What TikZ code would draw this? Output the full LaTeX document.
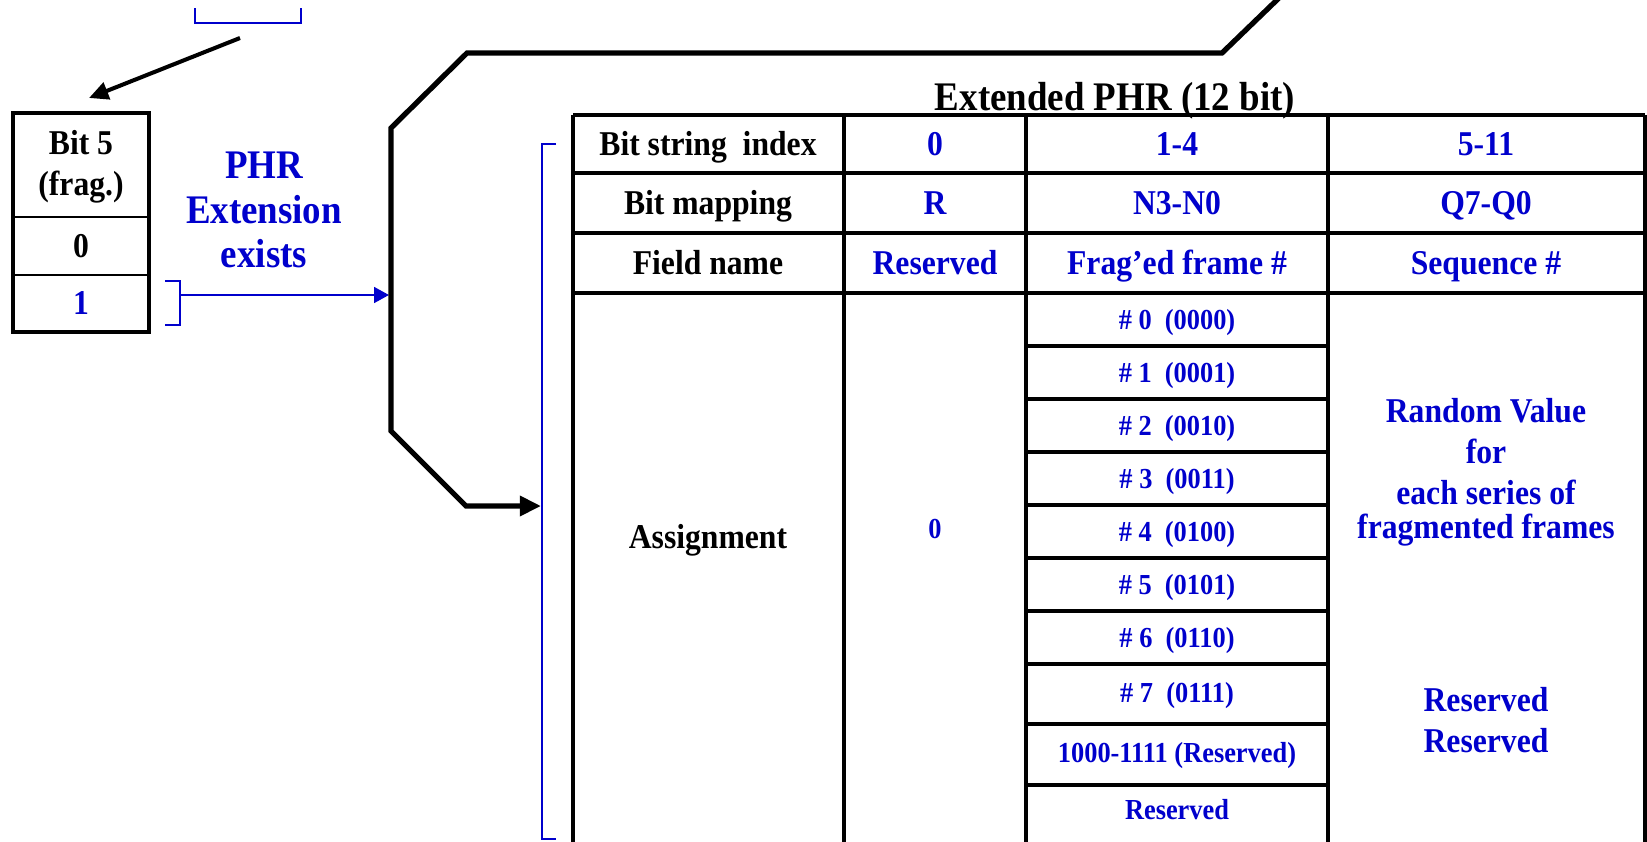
\documentclass[tikz,border=0pt]{standalone}
\usepackage{fontspec}
\setmainfont{Liberation Serif}[FakeStretch=0.91]
\usepackage{tikz}
\usetikzlibrary{arrows.meta}
\definecolor{phrblue}{RGB}{0,0,204}
\tikzset{
  txt/.style={inner sep=0pt, text height=13pt, text depth=0pt, font=\fontsize{19.8}{24}\selectfont\bfseries},
  smtxt/.style={inner sep=0pt, text height=11pt, text depth=0pt, text=phrblue, font=\fontsize{16.5}{20}\selectfont\bfseries},
  blk/.style={align=center, inner sep=0pt, font=\fontsize{19.8}{23.5}\selectfont\bfseries},
  tabline/.style={line width=2pt},
  brk/.style={draw=phrblue, line width=1.2pt},
}

\begin{document}
\begin{tikzpicture}[x=0.02cm, y=-0.02cm]
\useasboundingbox (0,0) rectangle (1647,842);

% bit 5 box
\draw[line width=1.1pt] (13,217) -- (149,217) (13,275) -- (149,275);
\draw[line width=2.3pt] (13,113) rectangle (149,332);
\node[blk] (bitfive) at (81,167) {Bit 5\\(frag.)};
\node[txt] (bitzero) at (81,246) {0};
\node[txt, text=phrblue] (bitone) at (81,303.5) {1};
\node[align=center, inner sep=0pt, text=phrblue, font=\fontsize{23.1}{25.5}\selectfont\bfseries] (phrext) at (264,210) {PHR\\Extension\\exists};

% arrows on the left
\draw[brk] (195,8) -- (195,23) -- (301,23) -- (301,8);
\coordinate (selbr) at (240,38);
\coordinate (bittop) at (89,98);
\draw[line width=2.3pt, -{Triangle[length=11pt,width=10pt]}] (selbr) -- (bittop);

\draw[brk] (165,281) -- (180,281) -- (180,325) -- (165,325);
\coordinate (onebr) at (180,295);
\coordinate (phrin) at (389,295);
\draw[brk, -{Triangle[length=8.5pt,width=9pt]}] (onebr) -- (phrin);

\coordinate (phrtop) at (1280,-3);
\coordinate (asgin) at (541,506);
\draw[line width=3pt, -{Triangle[length=12pt,width=11pt]}] (phrtop) -- (1222,53) -- (467,53) -- (391,128) -- (391,431) -- (466,506) -- (asgin);

\draw[brk] (556,144) -- (542,144) -- (542,839) -- (556,839);

% table
\node[inner sep=0pt, text height=15.3pt, text depth=0pt, font=\fontsize{23.1}{27}\selectfont\bfseries] (title) at (1115,97) {Extended PHR (12 bit)};
\foreach \y in {115,173,233,293}
  \draw[tabline] (573,\y) -- (1645,\y);
\foreach \x in {573,844,1026,1328,1645}
  \draw[tabline] (\x,115) -- (\x,845);
\foreach \y in {346,399,452,505,558,611,664,724,785}
  \draw[tabline] (1026,\y) -- (1328,\y);

\node[txt] (idx) at (708,144) {Bit string\ \ index};
\node[txt, text=phrblue] (idxr) at (935,144) {0};
\node[txt, text=phrblue] (idxn) at (1177,144) {1-4};
\node[txt, text=phrblue] (idxq) at (1486,144) {5-11};

\node[txt] (map) at (708,203) {Bit mapping};
\node[txt, text=phrblue] (mapr) at (935,203) {R};
\node[txt, text=phrblue] (mapn) at (1177,203) {N3-N0};
\node[txt, text=phrblue] (mapq) at (1486,203) {Q7-Q0};

\node[txt] (fld) at (708,263) {Field name};
\node[txt, text=phrblue] (fldr) at (935,263) {Reserved};
\node[txt, text=phrblue] (fldn) at (1177,263) {Frag’ed frame \#};
\node[txt, text=phrblue] (fldq) at (1486,263) {Sequence \#};

\node[txt] (asg) at (708,537) {Assignment};
\node[smtxt] (asgr) at (935,529) {0};
\foreach \n/\b/\y in {0/0000/319.5,1/0001/372.5,2/0010/425.5,3/0011/478.5,4/0100/531.5,5/0101/584.5,6/0110/637.5,7/0111/693}
  \node[smtxt] (frag\n) at (1177,\y) {\# \n\ \ (\b)};
\node[smtxt] (fragrsv) at (1177,753) {1000-1111 (Reserved)};
\node[smtxt] (fraglast) at (1177,810) {Reserved};

\node[blk, text=phrblue] (rnd) at (1486,472) {Random Value\\for\\each series of\\[-4.5pt]fragmented frames};
\node[blk, text=phrblue] (rsv) at (1486,720) {Reserved\\Reserved};
\end{tikzpicture}
\end{document}
